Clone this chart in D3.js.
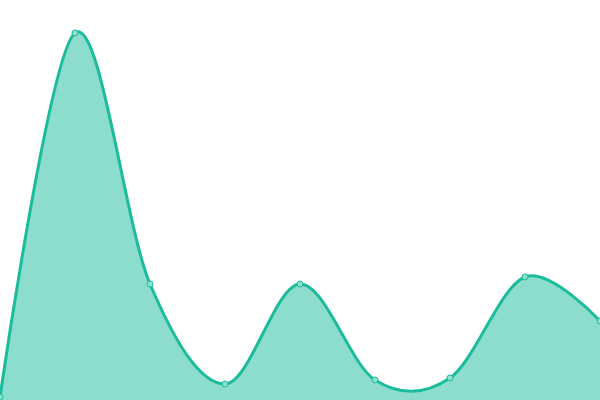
<!DOCTYPE html>
<html>
<head>
<meta charset="utf-8">
<script src="https://cdn.jsdelivr.net/npm/d3@7"></script>
<style>
  html, body { margin: 0; padding: 0; background: #fff; }
  svg { display: block; }
</style>
</head>
<body>
<svg id="chart"></svg>
<script>
// values
const labels = [0, 1, 2, 3, 4, 5, 6, 7, 8];
const values = [0.75, 91.75, 29, 4, 29, 5, 5.5, 30.75, 19.75];

const width = 600;
const height = 400;

const svg = d3.select('#chart')
  .attr('width', width)
  .attr('height', height);

const x = d3.scaleLinear()
  .domain(d3.extent(labels))
  .range([0, width]);

const y = d3.scaleLinear()
  .domain([0, 100])
  .range([height, 0]);

const data = labels.map((l, i) => ({ l, v: values[i] }));

const area = d3.area()
  .x(d => x(d.l))
  .y0(height)
  .y1(d => y(d.v))
  .curve(d3.curveCardinal);

const line = d3.line()
  .x(d => x(d.l))
  .y(d => y(d.v))
  .curve(d3.curveCardinal);

svg.append('path')
  .datum(data)
  .attr('fill', '#1abc9c')
  .attr('fill-opacity', 0.5)
  .attr('d', area);

svg.append('path')
  .datum(data)
  .attr('fill', 'none')
  .attr('stroke', '#1abc9c')
  .attr('stroke-width', 3)
  .attr('d', line);

svg.selectAll('.pt')
  .data(data)
  .enter()
  .append('circle')
  .attr('class', 'pt')
  .attr('cx', d => x(d.l))
  .attr('cy', d => y(d.v))
  .attr('r', 3)
  .attr('fill', '#8ce0cf')
  .attr('stroke', '#1abc9c')
  .attr('stroke-width', 1);
</script>
</body>
</html>
